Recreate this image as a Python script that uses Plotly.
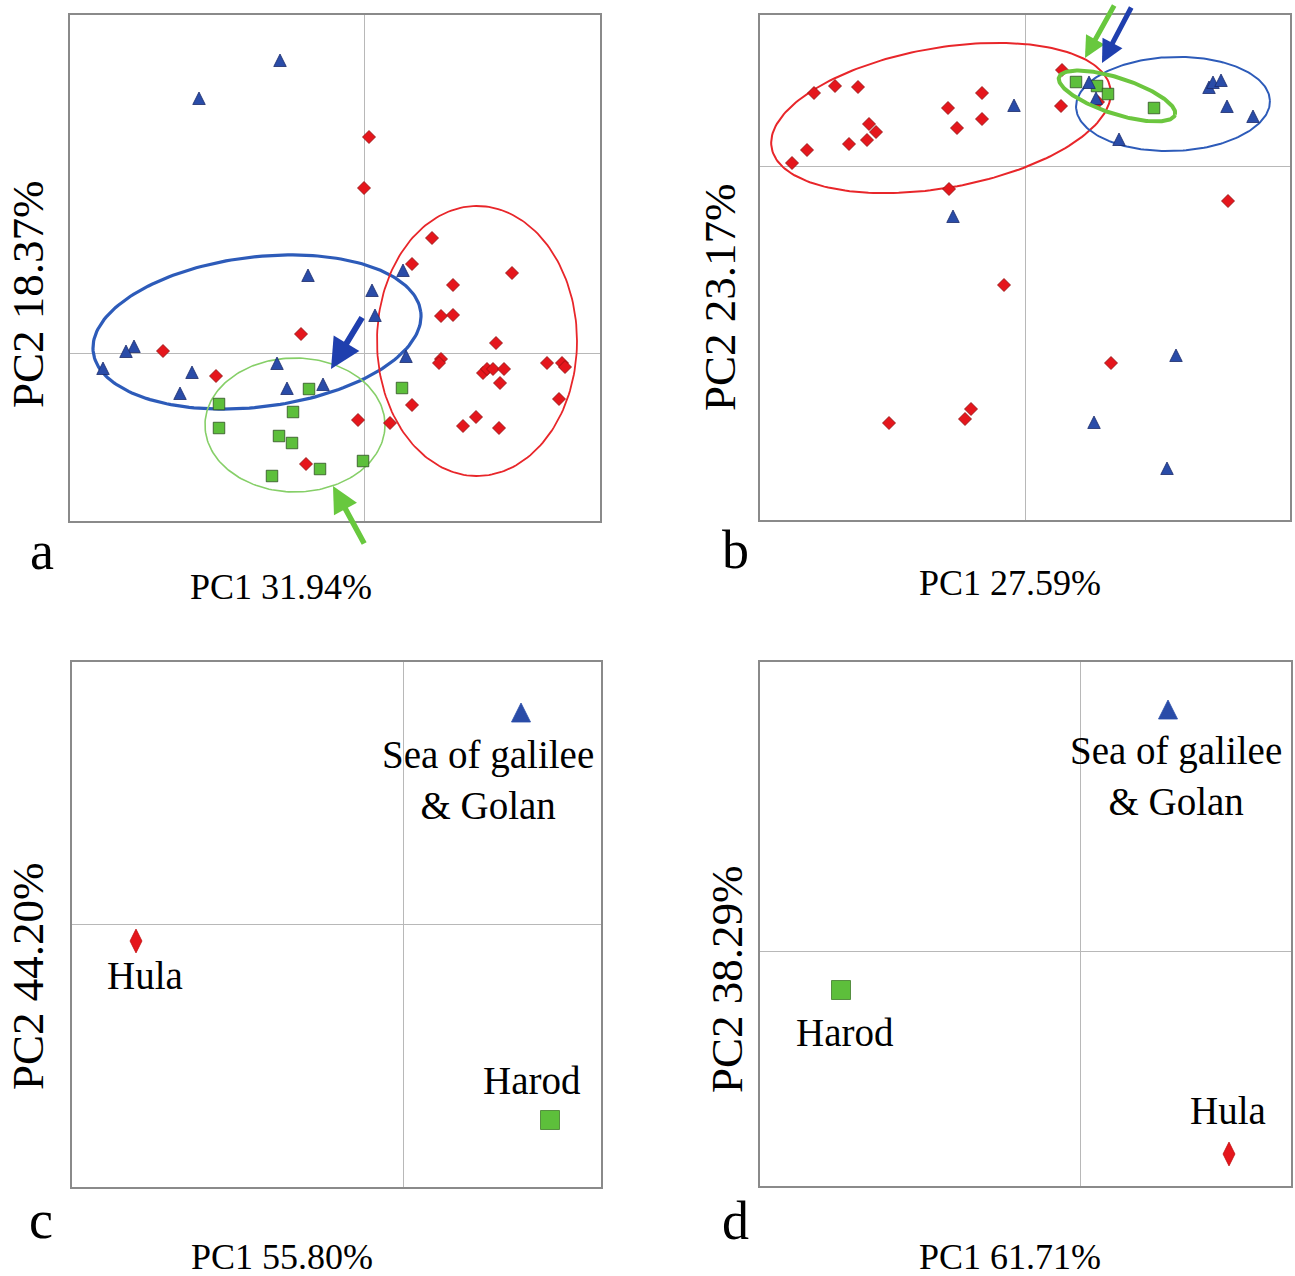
import numpy as np
import plotly.graph_objects as go

W, H = 1295, 1276

# ---------------- data (PC scores) ----------------
# panel a
a_sg_x = [-0.84, -1.65, -0.56, 0.08, 0.11, 0.39, 0.42, -2.30, -2.38, -2.61, -1.72, -1.84, -0.87, -0.77, -0.41]
a_sg_y = [2.99, 2.61, 0.84, 0.69, 0.44, 0.89, 0.03, 0.13, 0.08, -0.09, -0.13, -0.34, -0.04, -0.29, -0.25]
a_hula_x = [0.05, 0.00, 0.68, 0.48, 1.48, 0.89, 0.77, 0.89, -0.63, -2.01, -1.48, 1.32, 0.77, 0.75, 1.19,
            1.23, 1.29, 1.40, 1.36, 1.83, 1.98, 2.01, 1.95, 0.48, 1.12, 0.99, 1.35, -0.06, 0.26, -0.58]
a_hula_y = [2.16, 1.65, 1.15, 0.89, 0.80, 0.68, 0.37, 0.38, 0.19, 0.02, -0.23, 0.10, -0.06, -0.10, -0.20,
            -0.16, -0.16, -0.16, -0.30, -0.10, -0.10, -0.14, -0.46, -0.52, -0.64, -0.73, -0.75, -0.67, -0.70, -1.11]
a_harod_x = [-1.45, -1.45, -0.55, -0.71, -0.85, -0.72, -0.92, -0.44, -0.01, 0.38]
a_harod_y = [-0.51, -0.75, -0.36, -0.59, -0.83, -0.90, -1.23, -1.16, -1.08, -0.35]

# panel b
b_sg_x = [-0.11, 0.64, 0.71, 0.94, 1.84, 1.88, 1.96, 2.02, 2.28, -0.72, 1.51, 0.69, 1.42]
b_sg_y = [0.67, 0.90, 0.74, 0.33, 0.85, 0.90, 0.92, 0.66, 0.56, -0.44, -1.83, -2.50, -2.96]
b_hula_x = [-2.11, -1.90, -1.67, -2.18, -2.33, -1.76, -1.56, -1.49, -1.58, -0.77, -0.68, -0.43, -0.43,
            0.36, 0.37, 0.73, -0.76, 2.03, -0.21, 0.86, -1.36, -0.54, -0.60]
b_hula_y = [0.73, 0.80, 0.79, 0.16, 0.03, 0.22, 0.42, 0.34, 0.26, 0.58, 0.38, 0.73, 0.47,
            0.60, 0.96, 0.64, -0.23, -0.35, -1.19, -1.97, -2.57, -2.43, -2.53]
b_harod_x = [0.51, 0.72, 0.83, 1.29]
b_harod_y = [0.84, 0.80, 0.72, 0.58]

# panels c and d (group means)
groups = ["Sea of galilee<br>& Golan", "Hula", "Harod"]
c_x = [1.18, -2.67, 1.47]
c_y = [2.21, -0.17, -1.96]
d_x = [0.88, 1.49, -2.39]
d_y = [2.51, -2.03, -0.39]

x_titles = ["PC1 31.94%", "PC1 27.59%", "PC1 55.80%", "PC1 61.71%"]
y_titles = ["PC2 18.37%", "PC2 23.17%", "PC2 44.20%", "PC2 38.29%"]
panel_letters = ["a", "b", "c", "d"]

# ---------------- styles ----------------
RED, BLUE, GREEN = "#e5161c", "#2a4ca8", "#5dbf3b"
FONT = "Liberation Serif"

# plot boxes in pixels (left, top, right, bottom) and axis ranges
boxes = [(70, 15, 600, 521), (760, 15, 1290, 520), (72, 662, 601, 1187), (760, 662, 1291, 1186)]
xranges = [[-2.94, 2.36], [-2.65, 2.65], [-3.31, 1.98], [-3.20, 2.11]]
yranges = [[-1.68, 3.38], [-3.54, 1.51], [-2.63, 2.62], [-2.35, 2.89]]

fig = go.Figure()
layout = dict(width=W, height=H, autosize=False, margin=dict(l=0, r=0, t=0, b=0),
              paper_bgcolor="white", plot_bgcolor="white", showlegend=False)

for i, (l, t, r, b) in enumerate(boxes):
    n = "" if i == 0 else str(i + 1)
    ax = dict(showgrid=False, showticklabels=False, ticks="", showline=True, mirror=True,
              linecolor="#8a8a8a", linewidth=1.5, zeroline=True, zerolinecolor="#b8b8b8",
              zerolinewidth=1)
    layout["xaxis" + n] = dict(ax, domain=[l / W, r / W], range=xranges[i], anchor="y" + n)
    layout["yaxis" + n] = dict(ax, domain=[1 - b / H, 1 - t / H], range=yranges[i], anchor="x" + n)


def pts(x, y, sym, size, color, line, i):
    n = "" if i == 0 else str(i + 1)
    fig.add_trace(go.Scatter(x=x, y=y, mode="markers", xaxis="x" + n, yaxis="y" + n,
                             marker=dict(symbol=sym, size=size, color=color,
                                         line=dict(color=line, width=0.8)),
                             cliponaxis=False))


def ellipse(cx, cy, a, b, ang, color, width, i):
    n = "" if i == 0 else str(i + 1)
    t = np.linspace(0, 2 * np.pi, 200)
    th = np.deg2rad(ang)
    ex = cx + a * np.cos(t) * np.cos(th) - b * np.sin(t) * np.sin(th)
    ey = cy + a * np.cos(t) * np.sin(th) + b * np.sin(t) * np.cos(th)
    fig.add_trace(go.Scatter(x=ex, y=ey, mode="lines", xaxis="x" + n, yaxis="y" + n,
                             line=dict(color=color, width=width), hoverinfo="skip"))


# panel a
ellipse(-1.07, 0.21, 1.65, 0.75, 7, "#2d5bb9", 3.2, 0)
ellipse(1.13, 0.12, 1.00, 1.35, 0, "#e8262a", 1.8, 0)
ellipse(-0.69, -0.72, 0.90, 0.67, 0, "#86cf68", 1.6, 0)
pts(a_hula_x, a_hula_y, "diamond", 10, RED, "#8c1010", 0)
pts(a_harod_x, a_harod_y, "square", 11.5, GREEN, "#2f4f22", 0)
pts(a_sg_x, a_sg_y, "arrow-up", 12.5, BLUE, "#1a2a6a", 0)

# panel b
ellipse(-0.84, 0.48, 1.72, 0.70, 10, "#e8262a", 2.0, 1)
ellipse(1.48, 0.62, 0.97, 0.47, 2, "#2d5bb9", 2.0, 1)
pts(b_hula_x, b_hula_y, "diamond", 10, RED, "#8c1010", 1)
pts(b_harod_x, b_harod_y, "square", 11.5, GREEN, "#2f4f22", 1)
pts(b_sg_x, b_sg_y, "arrow-up", 12.5, BLUE, "#1a2a6a", 1)
ellipse(0.92, 0.70, 0.61, 0.18, -18, "#6cc63f", 4.0, 1)

# panels c, d
sym_cd = ["arrow-up", "diamond-tall", "square"]
col_cd = [BLUE, RED, GREEN]
size_cd = [19, 17, 19]
line_cd = ["#2a4ca8", "#c01010", "#3f7a2a"]
for i, (xs, ys) in zip([2, 3], [(c_x, c_y), (d_x, d_y)]):
    for k in range(3):
        pts([xs[k]], [ys[k]], sym_cd[k], size_cd[k], col_cd[k], line_cd[k], i)

annotations = []
# labels for panels c and d (offsets in pixels from marker)
lab_off = {2: [(-33, -77), (9, -34), (-18, 40)], 3: [(8, -76), (-1, 44), (4, -42)]}
for i, (xs, ys) in zip([2, 3], [(c_x, c_y), (d_x, d_y)]):
    n = str(i + 1)
    for k in range(3):
        dx, dy = lab_off[i][k]
        annotations.append(dict(x=xs[k], y=ys[k], xref="x" + n, yref="y" + n, text=groups[k],
                                showarrow=False, xshift=dx, yshift=dy, align="center",
                                font=dict(family=FONT, size=39, color="black")))

# arrows (panel, head, tail, colour, shaft width, head size)
arrows = [(0, (-0.33, -0.16), (-0.01, 0.37), "#1f3fae", 6, 1.0),
          (0, (-0.31, -1.33), (0.01, -1.92), "#68c83e", 5.5, 0.95),
          (1, (0.60, 1.08), (0.90, 1.62), "#68c83e", 5, 0.85),
          (1, (0.77, 1.03), (1.07, 1.60), "#1f3fae", 5, 0.9)]
for i, hd, tl, col, wd, sz in arrows:
    n = "" if i == 0 else str(i + 1)
    annotations.append(dict(x=hd[0], y=hd[1], ax=tl[0], ay=tl[1], xref="x" + n, yref="y" + n,
                            axref="x" + n, ayref="y" + n, showarrow=True, arrowhead=2,
                            arrowsize=sz, arrowwidth=wd, arrowcolor=col, standoff=0, text=""))

# axis titles and panel letters (pixel positions)
xt_pos = [(281, 587), (1010, 583), (282, 1257), (1010, 1257)]
yt_pos = [(28, 294), (720, 297), (28, 976), (727, 979)]
let_pos = [(42, 551), (735, 550), (41, 1220), (735, 1221)]
for k in range(4):
    annotations.append(dict(x=xt_pos[k][0] / W, y=1 - xt_pos[k][1] / H, xref="paper", yref="paper",
                            text=x_titles[k], showarrow=False, xanchor="center", yanchor="middle",
                            font=dict(family=FONT, size=36, color="black")))
    annotations.append(dict(x=yt_pos[k][0] / W, y=1 - yt_pos[k][1] / H, xref="paper", yref="paper",
                            text=y_titles[k], showarrow=False, textangle=-90, xanchor="center",
                            yanchor="middle", font=dict(family=FONT, size=45, color="black")))
    annotations.append(dict(x=let_pos[k][0] / W, y=1 - let_pos[k][1] / H, xref="paper", yref="paper",
                            text=panel_letters[k], showarrow=False, xanchor="center", yanchor="middle",
                            font=dict(family=FONT, size=54, color="black")))

layout["annotations"] = annotations
fig.update_layout(**layout)
fig.write_html("out.html", config={"displayModeBar": False},
               post_script="document.body.style.margin='0';")
